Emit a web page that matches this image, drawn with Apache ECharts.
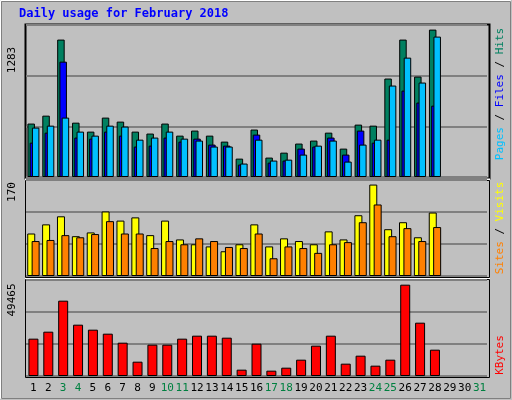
<!DOCTYPE html>
<html><head><meta charset="utf-8">
<script src="https://cdn.jsdelivr.net/npm/echarts@6/dist/echarts.min.js"></script>
<style>html,body{margin:0;padding:0;background:#c0c0c0}#c{width:512px;height:400px}</style>
</head><body><div id="c"></div>
<script>
const days = Array.from({length:31},(_,i)=>String(i+1));
const weekendDays = ['3','4','10','11','17','18','24','25','31'];
const hits  = [465,534,1196,473,395,517,482,395,378,465,360,404,360,308,160,413,169,212,291,317,386,247,456,447,857,1196,874,1283,null,null,null];
const files = [299,386,1004,343,334,395,360,265,273,343,308,334,282,273,108,369,125,143,247,265,343,195,404,299,325,752,648,621,null,null,null];
const pages = [430,447,517,395,360,447,439,325,343,395,334,317,265,265,117,325,143,151,195,273,317,134,282,325,796,1039,822,1222,null,null,null];
const visits= [79,96,111,74,81,120,103,109,76,103,68,59,55,46,59,96,55,70,65,59,83,68,113,170,87,100,72,118,null,null,null];
const sites = [65,67,76,72,78,102,79,79,52,65,59,70,65,54,52,79,33,55,52,43,59,63,100,133,74,89,65,91,null,null,null];
const kbytes= [20220,24010,40800,27800,25090,22920,18050,7760,16970,16970,20220,21840,21840,20760,3430,17510,2890,4510,8840,16430,21840,6680,11010,5600,8840,49465,28880,14260,null,null,null];
const maxLabels = ['1283','170','49465'];
const title = 'Daily usage for February 2018';

const font = '"DejaVu Sans Mono", "Liberation Mono", monospace';
const chart = echarts.init(document.getElementById('c'));
const grids = [
  {left:26,right:25,top:25,height:152},
  {left:26,right:25,top:180,height:96},
  {left:26,right:25,top:280,height:96}
];
const mkX = (i,show)=>({type:'category',gridIndex:i,data:days,
  axisLine:{show:false},axisTick:{show:false},
  axisLabel:{show:show,interval:0,margin:7,fontFamily:font,fontSize:11,
    formatter:v=>weekendDays.includes(v)?'{w|'+v+'}':'{n|'+v+'}',
    rich:{w:{color:'#008040',fontFamily:font,fontSize:11},n:{color:'#000',fontFamily:font,fontSize:11}}}});
const mkY = (i,max)=>({type:'value',gridIndex:i,min:0,max:max,interval:max/3,
  axisLabel:{show:false},axisLine:{show:false},axisTick:{show:false},
  splitLine:{lineStyle:{color:'#808080',width:2}}});
const bs = c=>({color:c,borderColor:'#000',borderWidth:1});
chart.setOption({
  animation:false,
  backgroundColor:'#c0c0c0',
  grid:grids,
  xAxis:[mkX(0,false),mkX(1,false),mkX(2,true)],
  yAxis:[mkY(0,1323),mkY(1,178.5),mkY(2,52000)],
  series:[
    {type:'bar',xAxisIndex:0,yAxisIndex:0,data:hits,barWidth:7.5,barGap:'-70%',itemStyle:bs('#008060')},
    {type:'bar',xAxisIndex:0,yAxisIndex:0,data:files,barWidth:7.5,barGap:'-70%',itemStyle:bs('#0000ff')},
    {type:'bar',xAxisIndex:0,yAxisIndex:0,data:pages,barWidth:7.5,barGap:'-70%',itemStyle:bs('#00c0ff')},
    {type:'bar',xAxisIndex:1,yAxisIndex:1,data:visits,barWidth:8,barGap:'-45%',itemStyle:bs('#ffff00')},
    {type:'bar',xAxisIndex:1,yAxisIndex:1,data:sites,barWidth:8,barGap:'-45%',itemStyle:bs('#ff8000')},
    {type:'bar',xAxisIndex:2,yAxisIndex:2,data:kbytes,barWidth:10,itemStyle:bs('#ff0000')}
  ],
  graphic:[
    {type:'rect',shape:{x:0.5,y:0.5,width:510,height:398},style:{fill:null,stroke:'#fff',lineWidth:1}},
    {type:'rect',shape:{x:1.5,y:1.5,width:509,height:397},style:{fill:null,stroke:'#808080',lineWidth:1}},
    {type:'text',left:19,top:8,style:{text:title,fill:'#0000ff',font:'bold 12px '+font}},
    {type:'rect',shape:{x:25.5,y:24.5,width:464,height:154},style:{fill:null,stroke:'#000',lineWidth:2}},
    {type:'line',shape:{x1:25,y1:179.5,x2:490,y2:179.5},style:{stroke:'#fff',lineWidth:2}},
    {type:'line',shape:{x1:25,y1:278.5,x2:490,y2:278.5},style:{stroke:'#fff',lineWidth:2}},
    {type:'rect',shape:{x:25.5,y:180.5,width:464,height:97},style:{fill:null,stroke:'#000',lineWidth:1}},
    {type:'rect',shape:{x:25.5,y:279.5,width:464,height:98},style:{fill:null,stroke:'#000',lineWidth:1}},
    {type:'text',x:12,y:60,rotation:Math.PI/2,style:{text:maxLabels[0],fill:'#000',font:'11px '+font,align:'center',verticalAlign:'middle'}},
    {type:'text',x:12,y:192,rotation:Math.PI/2,style:{text:maxLabels[1],fill:'#000',font:'11px '+font,align:'center',verticalAlign:'middle'}},
    {type:'text',x:12,y:300,rotation:Math.PI/2,style:{text:maxLabels[2],fill:'#000',font:'11px '+font,align:'center',verticalAlign:'middle'}},
    {type:'text',x:500,y:94,rotation:Math.PI/2,style:{
      text:'{p|Pages}{s| / }{f|Files}{s| / }{h|Hits}',align:'center',verticalAlign:'middle',
      rich:{p:{fill:'#00c0ff',font:'11px '+font},f:{fill:'#0000ff',font:'11px '+font},h:{fill:'#008060',font:'11px '+font},s:{fill:'#000',font:'11px '+font}}}},
    {type:'text',x:500,y:228,rotation:Math.PI/2,style:{
      text:'{a|Sites}{s| / }{b|Visits}',align:'center',verticalAlign:'middle',
      rich:{a:{fill:'#ff8000',font:'11px '+font},b:{fill:'#ffff00',font:'11px '+font},s:{fill:'#000',font:'11px '+font}}}},
    {type:'text',x:500,y:355,rotation:Math.PI/2,style:{text:'KBytes',fill:'#ff0000',font:'11px '+font,align:'center',verticalAlign:'middle'}}
  ]
});
</script></body></html>
